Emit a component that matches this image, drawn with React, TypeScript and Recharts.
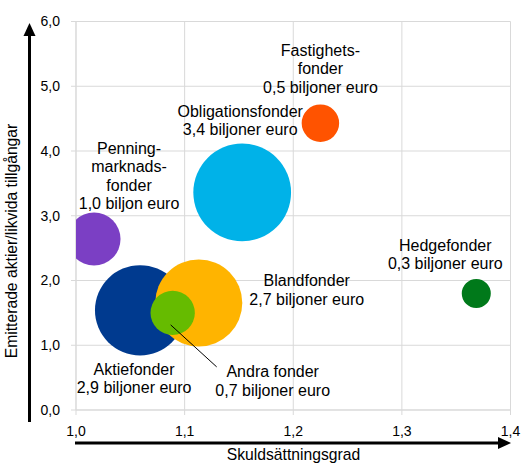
import React from 'react';
import { ScatterChart, Scatter, XAxis, YAxis, ZAxis, CartesianGrid, Cell, Customized } from 'recharts';

// fund categories (drawn in this order so the overlaps stack like the original)
const funds = [
  'Penningmarknadsfonder',
  'Obligationsfonder',
  'Fastighetsfonder',
  'Hedgefonder',
  'Aktiefonder',
  'Blandfonder',
  'Andra fonder',
];
const labelLines = [
  ['Penning-', 'marknads-', 'fonder'],
  ['Obligationsfonder'],
  ['Fastighets-', 'fonder'],
  ['Hedgefonder'],
  ['Aktiefonder'],
  ['Blandfonder'],
  ['Andra fonder'],
];
// skuldsättningsgrad
const leverage = [1.0166, 1.153, 1.225, 1.3685, 1.059, 1.113, 1.089];
// emitterade aktier / likvida tillgångar
const issuedToLiquid = [2.64, 3.36, 4.43, 1.8, 1.54, 1.653, 1.5];
// tillgångar, biljoner euro
const assets = [1.0, 3.4, 0.5, 0.3, 2.9, 2.7, 0.7];

const xTicks = [1.0, 1.1, 1.2, 1.3, 1.4];
const yTicks = [0, 1, 2, 3, 4, 5, 6];

const colors = ['#7B3FC4', '#00B2E8', '#FF5300', '#00791A', '#003A8F', '#FFB400', '#66BB00'];

// where each label sits relative to its bubble: dx, dy of first line's middle
const labelPos = [
  { dx: 35, dy: -90.8 },
  { dx: -2, dy: -81 },
  { dx: 0, dy: -73 },
  { dx: -31, dy: -48 },
  { dx: -6, dy: 59 },
  { dx: 108, dy: -22.3 },
  { dx: 100, dy: 58.7 },
];

const FONT = '"Liberation Sans", Arial, sans-serif';
const LINE = 18.5;

const data = funds.map((name, i) => ({
  name,
  x: leverage[i],
  y: issuedToLiquid[i],
  z: assets[i],
}));

const fmt = (v: number) => v.toFixed(1).replace('.', ',');

const FundLabel = (props: any) => {
  const { cx, cy, payload } = props;
  const i = funds.indexOf(payload.name);
  if (i < 0 || cx == null) return <g />;
  const v = payload.z;
  const lines = [...labelLines[i], `${fmt(v)} ${v === 1 ? 'biljon' : 'biljoner'} euro`];
  const p = labelPos[i];
  return (
    <g>
      {payload.name === 'Andra fonder' && (
        <line x1={cx - 2} y1={cy + 12} x2={cx + 44} y2={cy + 54} stroke="#000" strokeWidth={1} />
      )}
      {lines.map((t, k) => (
        <text
          key={k}
          x={cx + p.dx}
          y={cy + p.dy + k * LINE}
          textAnchor="middle"
          dominantBaseline="central"
          fontSize={16}
          fontFamily={FONT}
          fill="#000"
        >
          {t}
        </text>
      ))}
    </g>
  );
};

const Decorations = () => (
  <g>
    <line x1={29.5} y1={422} x2={29.5} y2={34} stroke="#000" strokeWidth={3} />
    <polygon points="29.5,23 23.5,36 35.5,36" fill="#000" />
    <line x1={75} y1={443} x2={500} y2={443} stroke="#000" strokeWidth={3} />
    <polygon points="511,443 498,437 498,449" fill="#000" />
    <text x={293.5} y={460} textAnchor="middle" fontSize={15.7} fontFamily={FONT} fill="#000">
      Skuldsättningsgrad
    </text>
    <text
      transform="translate(17, 241) rotate(-90)"
      textAnchor="middle"
      fontSize={15.7}
      fontFamily={FONT}
      fill="#000"
    >
      Emitterade aktier/likvida tillgångar
    </text>
  </g>
);

const FundBubbleChart = () => {
  return (
    <div style={{ position: 'absolute', left: 0, top: 0, background: '#fff' }}>
      <ScatterChart
        width={523}
        height={463}
        margin={{ top: 21.5, right: 12.5, left: 36, bottom: 23 }}
      >
        <CartesianGrid stroke="#d9d9d9" />
        <XAxis
          type="number"
          dataKey="x"
          domain={[1.0, 1.4]}
          ticks={xTicks}
          interval={0}
          allowDataOverflow
          tickFormatter={fmt}
          tick={{ fill: '#000', fontSize: 14, fontFamily: FONT }}
          axisLine={{ stroke: '#d9d9d9' }}
          tickLine={{ stroke: '#d9d9d9' }}
          tickSize={5}
          tickMargin={11}
          height={30}
        />
        <YAxis
          type="number"
          dataKey="y"
          domain={[0, 6]}
          ticks={yTicks}
          interval={0}
          tickFormatter={fmt}
          tick={{ fill: '#000', fontSize: 14, fontFamily: FONT }}
          axisLine={{ stroke: '#d9d9d9' }}
          tickLine={{ stroke: '#d9d9d9' }}
          tickSize={5}
          tickMargin={11}
          width={40}
        />
        <ZAxis type="number" dataKey="z" domain={[0, 4]} range={[0, 8824]} />
        <Scatter data={data} isAnimationActive={false}>
          {data.map((d, i) => (
            <Cell key={d.name} fill={colors[i]} />
          ))}
        </Scatter>
        <Scatter data={data} shape={FundLabel} isAnimationActive={false} />
        <Customized component={Decorations} />
      </ScatterChart>
    </div>
  );
};

export default FundBubbleChart;
